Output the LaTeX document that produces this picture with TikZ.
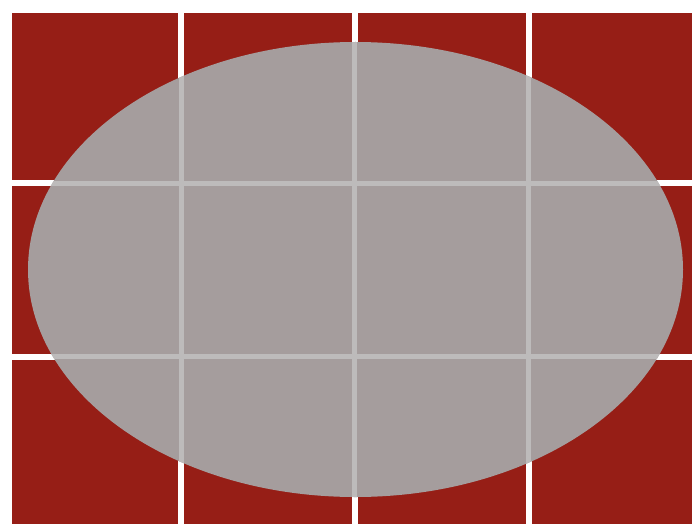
\documentclass[tikz,border=0pt]{standalone}
\definecolor{brick}{HTML}{961E16}
\definecolor{disc}{HTML}{A59D9D}
\definecolor{gridin}{HTML}{BDBBBB}
\tikzset{
  whiteline/.style={draw=white,line width=6pt},
  innerline/.style={draw=gridin,line width=5pt},
}
\begin{document}
\begin{tikzpicture}[x=1pt,y=-1pt]
\useasboundingbox (0,0) rectangle (692,524);
\fill[white] (0,0) rectangle (692,524);
\fill[brick] (12,13) rectangle (692,524);
% white grid lines
\foreach \gx in {181,354.5,528.5} \draw[whiteline] (\gx,13) -- (\gx,524);
\foreach \gy in {183,356.5} \draw[whiteline] (12,\gy) -- (692,\gy);
% ellipse
\fill[disc] (355.5,269.5) ellipse [x radius=327.5, y radius=227.5];
\begin{scope}
\clip (355.5,269.5) ellipse [x radius=327.5, y radius=227.5];
\foreach \gx in {181,354.5,528.5} \draw[innerline] (\gx,13) -- (\gx,524);
\foreach \gy in {183,356.5} \draw[innerline] (12,\gy) -- (692,\gy);
\end{scope}
\end{tikzpicture}
\end{document}
